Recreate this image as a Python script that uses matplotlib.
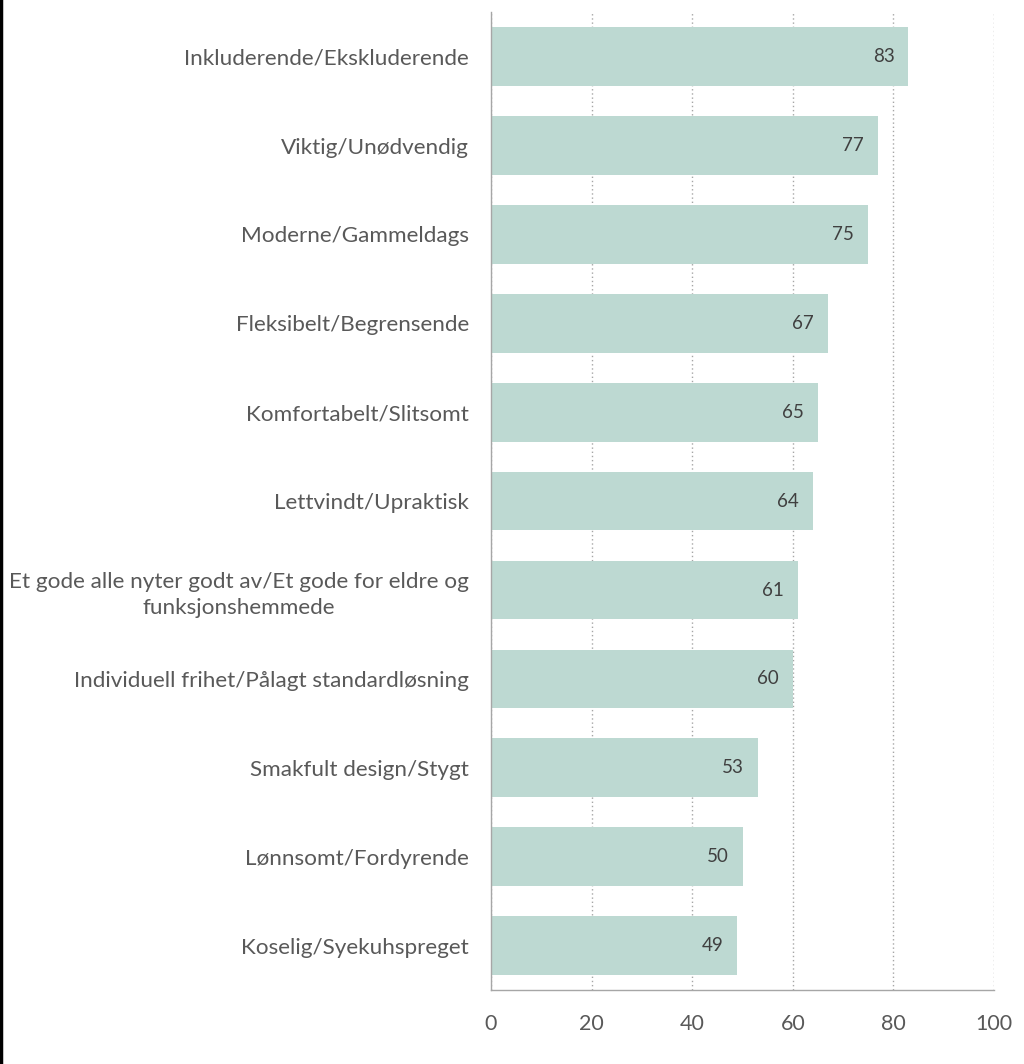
import matplotlib.pyplot as plt
from matplotlib.lines import Line2D

labels = [
    "Inkluderende/Ekskluderende",
    "Viktig/Unødvendig",
    "Moderne/Gammeldags",
    "Fleksibelt/Begrensende",
    "Komfortabelt/Slitsomt",
    "Lettvindt/Upraktisk",
    "Et gode alle nyter godt av/Et gode for eldre og\nfunksjonshemmede",
    "Individuell frihet/Pålagt standardløsning",
    "Smakfult design/Stygt",
    "Lønnsomt/Fordyrende",
    "Koselig/Syekuhspreget",
]
values = [83, 77, 75, 67, 65, 64, 61, 60, 53, 50, 49]

BAR_COLOR = "#BDD9D2"
TEXT_COLOR = "#595959"

plt.rcParams['font.family'] = ['Lato', 'DejaVu Sans']

fig = plt.figure(figsize=(10.24, 10.64), dpi=100)
ax = fig.add_axes([0.4795, 0.0695, 0.4912, 0.919])

ypos = list(range(len(labels)))
ax.barh(ypos, values, height=0.66, color=BAR_COLOR, zorder=2)

for y, v in zip(ypos, values):
    ax.text(v - 2.8, y, str(v), ha='right', va='center', fontsize=13.5,
            color="#404040", zorder=3)

ax.set_xlim(0, 100)
ax.set_ylim(len(labels) - 0.5, -0.5)
ax.set_xticks([0, 20, 40, 60, 80, 100])
ax.set_yticks(ypos)
ax.set_yticklabels(labels, fontsize=16.2, color=TEXT_COLOR, ha='right',
                   multialignment='center', linespacing=1.35)
ax.tick_params(axis='y', length=0, pad=16)
ax.tick_params(axis='x', length=0, pad=17, labelsize=15.5, labelcolor=TEXT_COLOR)

ax.grid(axis='x', linestyle=(0, (1, 2)), color="#A6A6A6", linewidth=1, zorder=1)
for side in ['top', 'right']:
    ax.spines[side].set_visible(False)
for side in ['left', 'bottom']:
    ax.spines[side].set_color("#A6A6A6")
    ax.spines[side].set_linewidth(1)

fig.add_artist(Line2D([0.001, 0.001], [0, 1], color='black', linewidth=2.5,
                      transform=fig.transFigure))

fig.savefig("out.png", dpi=100)
